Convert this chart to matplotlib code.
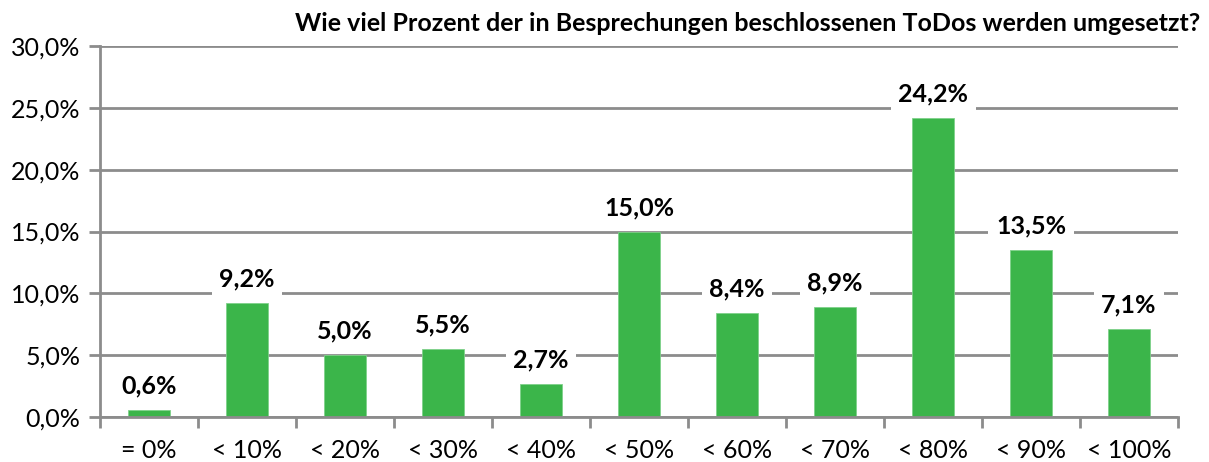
import matplotlib
matplotlib.use("Agg")
import matplotlib.pyplot as plt
import numpy as np

categories = ["= 0%", "< 10%", "< 20%", "< 30%", "< 40%", "< 50%",
              "< 60%", "< 70%", "< 80%", "< 90%", "< 100%"]
values = [0.6, 9.2, 5.0, 5.5, 2.7, 15.0, 8.4, 8.9, 24.2, 13.5, 7.1]
y_ticks = [0, 5, 10, 15, 20, 25, 30]

plt.rcParams['font.family'] = ['Lato', 'DejaVu Sans']

fig = plt.figure(figsize=(12.09, 4.62), dpi=100)
ax = fig.add_axes([0.0827, 0.0974, 0.8917, 0.803])

grid_col = "#8c8c8c"
x = np.arange(len(categories))
ax.bar(x, values, width=0.43, color="#3bb54a", edgecolor="#7fd18a", linewidth=0.6, zorder=2)

for xi, v in zip(x, values):
    label = f"{v:.1f}%".replace(".", ",")
    ax.annotate(label, (xi, v), xytext=(0, 24), textcoords="offset pixels",
                ha="center", va="center", fontsize=18, fontweight="bold", zorder=4,
                bbox=dict(boxstyle="square,pad=0.3", fc="white", ec="none"))

ax.set_xlim(-0.5, len(categories) - 0.5)
ax.set_ylim(0, 30)
ax.set_yticks(y_ticks)
ax.set_yticklabels([f"{t:.1f}%".replace(".", ",") for t in y_ticks], fontsize=18)
ax.yaxis.grid(True, color=grid_col, linewidth=2)
ax.set_axisbelow(True)

ax.set_xticks(np.arange(-0.5, len(categories), 1))
ax.set_xticklabels([])
ax.set_xticks(x, minor=True)
ax.set_xticklabels(categories, minor=True, fontsize=18)
ax.tick_params(axis="x", which="minor", length=0, pad=16)
ax.tick_params(axis="x", which="major", length=8, width=2, color=grid_col)
ax.tick_params(axis="y", length=8, width=2, color=grid_col, pad=6)

for side in ["top", "right"]:
    ax.spines[side].set_visible(False)
for side in ["left", "bottom"]:
    ax.spines[side].set_color(grid_col)
    ax.spines[side].set_linewidth(2)

fig.text(0.993, 0.975, "Wie viel Prozent der in Besprechungen beschlossenen ToDos werden umgesetzt?",
         ha="right", va="top", fontsize=18, fontweight="bold")

fig.savefig("out.png", dpi=100)
